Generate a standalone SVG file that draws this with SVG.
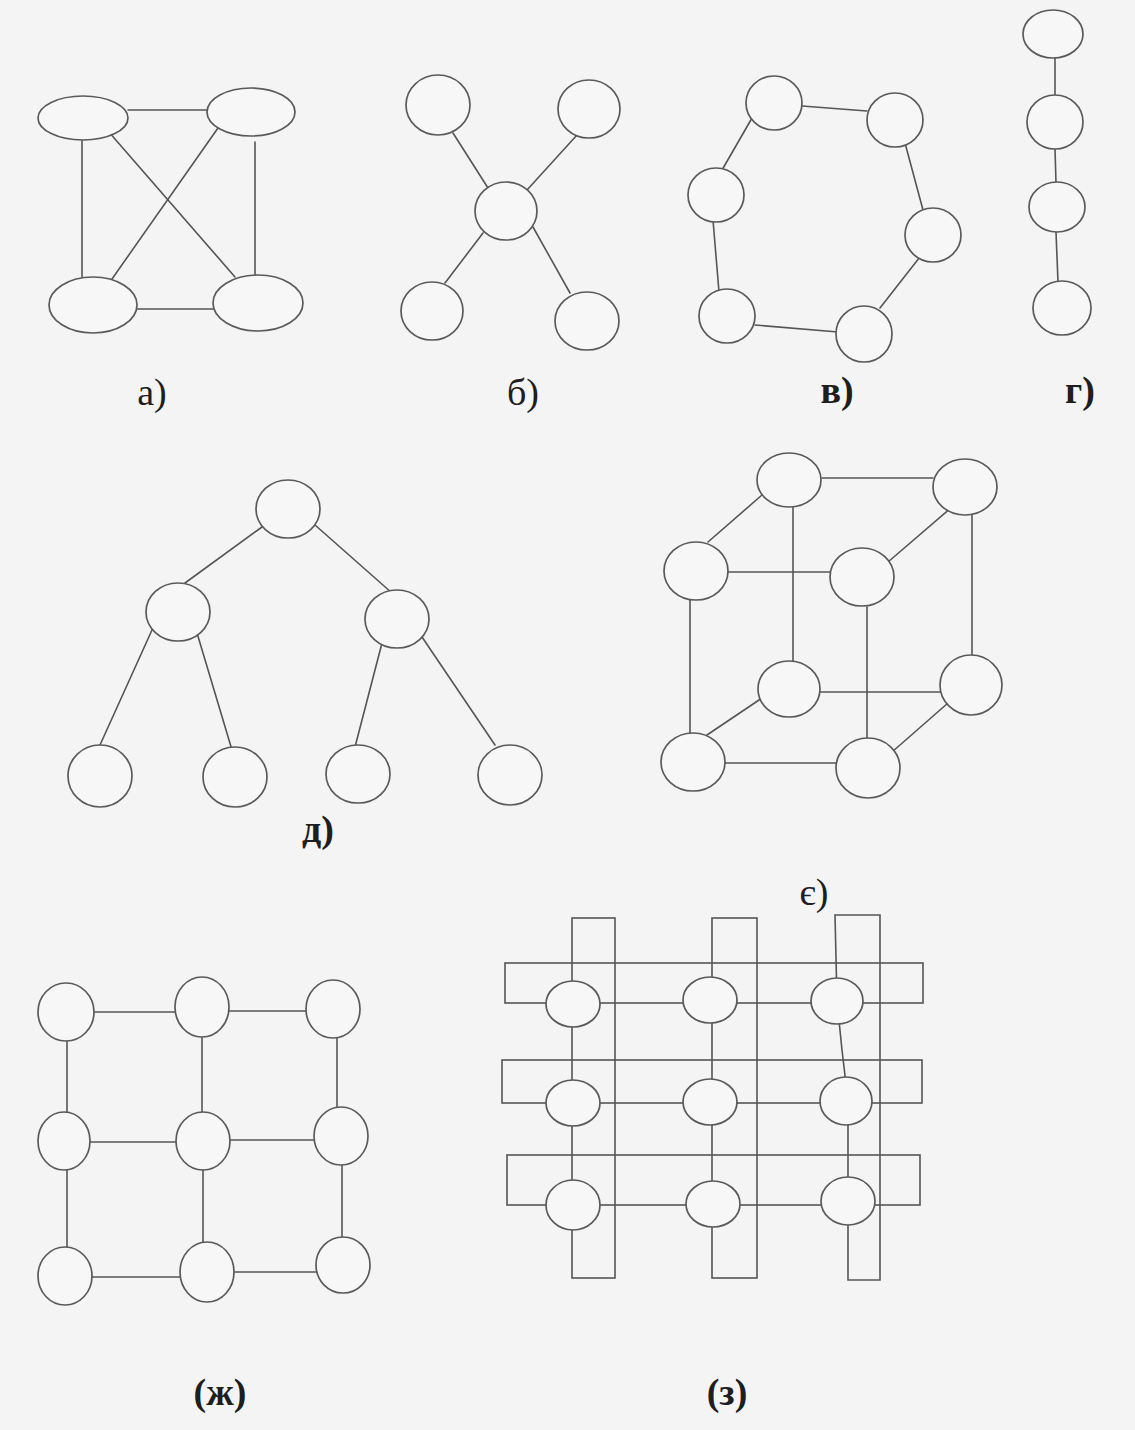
<svg xmlns="http://www.w3.org/2000/svg" width="1135" height="1430" viewBox="0 0 1135 1430">
<style>
.bg{fill:#f4f4f4}
.e{stroke:#555;stroke-width:1.6;fill:none;stroke-linecap:round}
.n{fill:#f7f7f7;stroke:#5a5a5a;stroke-width:1.7}
.bus{fill:none;stroke:#555;stroke-width:1.6}
.lbl{font-family:"Liberation Serif","Times New Roman",serif;font-size:38px;fill:#1e1e1e;text-anchor:middle}
.b{font-weight:bold}
</style>
<rect class="bg" x="0" y="0" width="1135" height="1430"/>

<!-- а) -->
<g id="conn-a">
<line class="e" x1="128" y1="110" x2="207" y2="110"/>
<line class="e" x1="82" y1="140" x2="82" y2="277"/>
<line class="e" x1="255" y1="142" x2="255" y2="275"/>
<line class="e" x1="137" y1="309" x2="213" y2="309"/>
<line class="e" x1="108" y1="131" x2="235" y2="277"/>
<line class="e" x1="218" y1="128" x2="112" y2="279"/>
</g>
<g id="a-n1"><ellipse class="n" cx="83" cy="118" rx="45" ry="22"/></g>
<g id="a-n2"><ellipse class="n" cx="251" cy="112" rx="44" ry="24"/></g>
<g id="a-n3"><ellipse class="n" cx="93" cy="305" rx="44" ry="28"/></g>
<g id="a-n4"><ellipse class="n" cx="258" cy="303" rx="45" ry="28"/></g>
<text class="lbl" x="152" y="405">а)</text>

<!-- б) -->
<g id="conn-b">
<line class="e" x1="453" y1="133" x2="488" y2="188"/>
<line class="e" x1="577" y1="135" x2="527" y2="190"/>
<line class="e" x1="483" y1="233" x2="445" y2="283"/>
<line class="e" x1="533" y1="227" x2="570" y2="293"/>
</g>
<g id="b-n1"><ellipse class="n" cx="438" cy="105" rx="32" ry="30"/></g>
<g id="b-n2"><ellipse class="n" cx="589" cy="109" rx="31" ry="29"/></g>
<g id="b-n3"><ellipse class="n" cx="506" cy="211" rx="31" ry="29"/></g>
<g id="b-n4"><ellipse class="n" cx="432" cy="311" rx="31" ry="29"/></g>
<g id="b-n5"><ellipse class="n" cx="587" cy="321" rx="32" ry="29"/></g>
<text class="lbl" x="523" y="405">б)</text>

<!-- в) -->
<g id="conn-v">
<line class="e" x1="802" y1="106" x2="867" y2="111"/>
<line class="e" x1="905" y1="143" x2="923" y2="210"/>
<line class="e" x1="923" y1="253" x2="880" y2="308"/>
<line class="e" x1="755" y1="325" x2="838" y2="332"/>
<line class="e" x1="752" y1="118" x2="722" y2="170"/>
<line class="e" x1="713" y1="220" x2="719" y2="292"/>
</g>
<g id="v-n1"><ellipse class="n" cx="774" cy="103" rx="28" ry="27"/></g>
<g id="v-n2"><ellipse class="n" cx="895" cy="120" rx="28" ry="27"/></g>
<g id="v-n3"><ellipse class="n" cx="933" cy="235" rx="28" ry="27"/></g>
<g id="v-n4"><ellipse class="n" cx="864" cy="334" rx="28" ry="28"/></g>
<g id="v-n5"><ellipse class="n" cx="727" cy="316" rx="28" ry="27"/></g>
<g id="v-n6"><ellipse class="n" cx="716" cy="195" rx="28" ry="27"/></g>
<text class="lbl b" x="837" y="403">в)</text>

<!-- г) -->
<g id="conn-g">
<line class="e" x1="1055" y1="58" x2="1055" y2="95"/>
<line class="e" x1="1055" y1="149" x2="1056" y2="183"/>
<line class="e" x1="1056" y1="232" x2="1058" y2="282"/>
</g>
<g id="g-n1"><ellipse class="n" cx="1053" cy="34" rx="30" ry="24"/></g>
<g id="g-n2"><ellipse class="n" cx="1055" cy="122" rx="28" ry="27"/></g>
<g id="g-n3"><ellipse class="n" cx="1057" cy="207" rx="28" ry="25"/></g>
<g id="g-n4"><ellipse class="n" cx="1062" cy="308" rx="29" ry="27"/></g>
<text class="lbl b" x="1080" y="403">г)</text>

<!-- д) -->
<g id="conn-d">
<line class="e" x1="262" y1="527" x2="185" y2="583"/>
<line class="e" x1="315" y1="525" x2="392" y2="593"/>
<line class="e" x1="152" y1="630" x2="100" y2="745"/>
<line class="e" x1="197" y1="633" x2="232" y2="750"/>
<line class="e" x1="382" y1="643" x2="355" y2="747"/>
<line class="e" x1="422" y1="637" x2="495" y2="745"/>
</g>
<g id="d-root"><ellipse class="n" cx="288" cy="509" rx="32" ry="29"/></g>
<g id="d-l1"><ellipse class="n" cx="178" cy="612" rx="32" ry="29"/></g>
<g id="d-r1"><ellipse class="n" cx="397" cy="619" rx="32" ry="29"/></g>
<g id="d-ll"><ellipse class="n" cx="100" cy="776" rx="32" ry="31"/></g>
<g id="d-lr"><ellipse class="n" cx="235" cy="777" rx="32" ry="30"/></g>
<g id="d-rl"><ellipse class="n" cx="358" cy="774" rx="32" ry="29"/></g>
<g id="d-rr"><ellipse class="n" cx="510" cy="775" rx="32" ry="30"/></g>
<text class="lbl b" x="318" y="842">д)</text>

<!-- є) -->
<g id="conn-ye">
<line class="e" x1="822" y1="478" x2="933" y2="478"/>
<line class="e" x1="728" y1="572" x2="830" y2="572"/>
<line class="e" x1="793" y1="507" x2="793" y2="662"/>
<line class="e" x1="867" y1="607" x2="867" y2="740"/>
<line class="e" x1="972" y1="515" x2="972" y2="655"/>
<line class="e" x1="690" y1="600" x2="690" y2="733"/>
<line class="e" x1="762" y1="495" x2="708" y2="542"/>
<line class="e" x1="952" y1="507" x2="888" y2="562"/>
<line class="e" x1="820" y1="692" x2="942" y2="692"/>
<line class="e" x1="725" y1="763" x2="837" y2="763"/>
<line class="e" x1="762" y1="698" x2="707" y2="735"/>
<line class="e" x1="948" y1="703" x2="892" y2="752"/>
</g>
<g id="ye-a"><ellipse class="n" cx="789" cy="480" rx="32" ry="27"/></g>
<g id="ye-b"><ellipse class="n" cx="965" cy="487" rx="32" ry="28"/></g>
<g id="ye-c"><ellipse class="n" cx="696" cy="571" rx="32" ry="29"/></g>
<g id="ye-d"><ellipse class="n" cx="862" cy="577" rx="32" ry="29"/></g>
<g id="ye-e"><ellipse class="n" cx="789" cy="689" rx="31" ry="28"/></g>
<g id="ye-f"><ellipse class="n" cx="971" cy="685" rx="31" ry="30"/></g>
<g id="ye-g"><ellipse class="n" cx="693" cy="762" rx="32" ry="29"/></g>
<g id="ye-h"><ellipse class="n" cx="868" cy="768" rx="32" ry="30"/></g>
<text class="lbl" x="814" y="905">є)</text>

<!-- ж) -->
<g id="conn-zh">
<line class="e" x1="93" y1="1012" x2="175" y2="1012"/>
<line class="e" x1="228" y1="1011" x2="307" y2="1011"/>
<line class="e" x1="90" y1="1142" x2="177" y2="1142"/>
<line class="e" x1="230" y1="1140" x2="315" y2="1140"/>
<line class="e" x1="92" y1="1277" x2="180" y2="1277"/>
<line class="e" x1="233" y1="1272" x2="317" y2="1272"/>
<line class="e" x1="67" y1="1040" x2="67" y2="1112"/>
<line class="e" x1="67" y1="1170" x2="67" y2="1247"/>
<line class="e" x1="202" y1="1037" x2="202" y2="1112"/>
<line class="e" x1="203" y1="1170" x2="203" y2="1242"/>
<line class="e" x1="337" y1="1038" x2="337" y2="1107"/>
<line class="e" x1="342" y1="1165" x2="342" y2="1237"/>
</g>
<g id="zh-11"><ellipse class="n" cx="66" cy="1012" rx="28" ry="29"/></g>
<g id="zh-12"><ellipse class="n" cx="202" cy="1007" rx="27" ry="30"/></g>
<g id="zh-13"><ellipse class="n" cx="333" cy="1009" rx="27" ry="29"/></g>
<g id="zh-21"><ellipse class="n" cx="64" cy="1141" rx="26" ry="29"/></g>
<g id="zh-22"><ellipse class="n" cx="203" cy="1141" rx="27" ry="29"/></g>
<g id="zh-23"><ellipse class="n" cx="341" cy="1136" rx="27" ry="29"/></g>
<g id="zh-31"><ellipse class="n" cx="65" cy="1276" rx="27" ry="29"/></g>
<g id="zh-32"><ellipse class="n" cx="207" cy="1272" rx="27" ry="30"/></g>
<g id="zh-33"><ellipse class="n" cx="343" cy="1265" rx="27" ry="28"/></g>
<text class="lbl b" x="220" y="1405">(ж)</text>

<!-- з) -->
<g id="conn-z">
<rect class="bus" x="505" y="963" width="418" height="40"/>
<rect class="bus" x="502" y="1060" width="420" height="43"/>
<rect class="bus" x="507" y="1155" width="413" height="50"/>
<rect class="bus" x="572" y="918" width="43" height="360"/>
<rect class="bus" x="712" y="918" width="45" height="360"/>
<path class="bus" d="M835 915 H880 V1280 H848 V1101 L842 1050 L837 1001 Z"/>
</g>
<g id="z-11"><ellipse class="n" cx="573" cy="1004" rx="27" ry="23"/></g>
<g id="z-12"><ellipse class="n" cx="710" cy="1000" rx="27" ry="23"/></g>
<g id="z-13"><ellipse class="n" cx="837" cy="1001" rx="26" ry="23"/></g>
<g id="z-21"><ellipse class="n" cx="573" cy="1103" rx="27" ry="23"/></g>
<g id="z-22"><ellipse class="n" cx="710" cy="1102" rx="27" ry="23"/></g>
<g id="z-23"><ellipse class="n" cx="846" cy="1101" rx="26" ry="24"/></g>
<g id="z-31"><ellipse class="n" cx="573" cy="1205" rx="27" ry="25"/></g>
<g id="z-32"><ellipse class="n" cx="713" cy="1204" rx="27" ry="23"/></g>
<g id="z-33"><ellipse class="n" cx="848" cy="1201" rx="27" ry="24"/></g>
<text class="lbl b" x="727" y="1405">(з)</text>
</svg>
